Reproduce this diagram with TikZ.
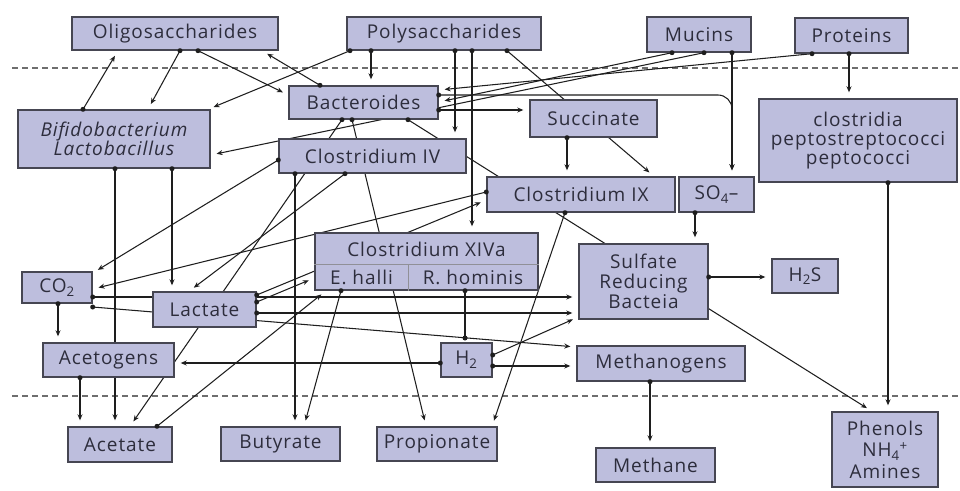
\documentclass[tikz,border=0pt]{standalone}
\usepackage{fontspec}
\setmainfont{Open Sans}[LetterSpace=5]
\usetikzlibrary{arrows.meta}
\definecolor{boxfill}{RGB}{189,190,221}
\definecolor{boxline}{RGB}{70,70,82}
\definecolor{txtc}{RGB}{45,45,60}
\definecolor{lc}{RGB}{30,30,30}
\definecolor{dashc}{RGB}{110,110,110}
\pgfdeclarelayer{background}
\pgfdeclarelayer{foreground}
\pgfsetlayers{background,main,foreground}
\newcommand\myedge[3][]{%
  \begin{pgfonlayer}{background}\draw[arr,#1] #2 -- #3;\end{pgfonlayer}%
  \begin{pgfonlayer}{foreground}\fill[lc] #2 circle (2.5pt);\end{pgfonlayer}}
\begin{document}
\begin{tikzpicture}[x=1pt, y=-1pt,
  bx/.style={draw=boxline, fill=boxfill, line width=1.4pt, inner sep=0pt, align=center, text=txtc, font=\fontsize{19}{19.5}\selectfont},
  lbl/.style={inner sep=0pt, text=txtc, font=\fontsize{19}{19.5}\selectfont},
  arr/.style={draw=lc, line width=1.05pt, -{Stealth[length=6pt,width=5pt]}, shorten >=6pt},
  pl/.style={draw=lc, line width=1.05pt},
  divl/.style={draw=boxline!60, line width=0.8pt}]
\useasboundingbox (0,0) rectangle (960,490);
\begin{pgfonlayer}{background}
\fill[white] (0,0) rectangle (960,490);
\draw[dashc, line width=1.5pt, dash pattern=on 6pt off 4pt] (12,68) -- (960,68);
\draw[dashc, line width=1.5pt, dash pattern=on 6pt off 4pt] (12,396) -- (960,396);
\end{pgfonlayer}

% boxes
\node[bx, minimum width=206pt, minimum height=33pt] (oligo) at (175,33.5) {Oligosaccharides};
\node[bx, minimum width=194pt, minimum height=33pt] (poly) at (444,33.5) {Polysaccharides};
\node[bx, minimum width=104pt, minimum height=35pt] (mucins) at (699,34.5) {Mucins};
\node[bx, minimum width=113pt, minimum height=35pt] (proteins) at (851.5,35.5) {Proteins};
\node[bx, minimum width=149pt, minimum height=33pt] (bact) at (363.5,102.5) {Bacteroides};
\node[bx, minimum width=192pt, minimum height=58pt, font=\fontsize{19}{19}\selectfont\itshape] (bifido) at (114,139) {Bifidobacterium\\Lactobacillus};
\node[bx, minimum width=187pt, minimum height=34pt] (clos4) at (372.5,156) {Clostridium IV};
\node[bx, minimum width=127pt, minimum height=37pt] (succ) at (593.5,118.5) {Succinate};
\node[bx, minimum width=198pt, minimum height=83pt, font=\fontsize{19}{19}\selectfont] (clostridia) at (858,140.5) {clostridia\\peptostreptococci\\peptococci};
\node[bx, minimum width=188pt, minimum height=35pt] (clos9) at (581,194.5) {Clostridium IX};
\node[bx, minimum width=75pt, minimum height=35pt] (so4) at (716.5,194.5) {SO\textsubscript{4}–};
\node[bx, minimum width=223pt, minimum height=57pt] (xiva) at (426.5,261.5) {};
\node[lbl] (xivat) at (426.5,249) {Clostridium XIVa};
\node[lbl] (ehalli) at (361.5,277.5) {E. halli};
\node[lbl] (rhom) at (473,277.5) {R. hominis};
\draw[divl] (xiva.west |- 0,264) -- (xiva.east |- 0,264);
\draw[divl] (xiva.south -| 408,0) -- (408,264);
\node[bx, minimum width=129pt, minimum height=75pt, font=\fontsize{19}{20}\selectfont] (srb) at (643.5,281.5) {Sulfate\\Reducing\\Bacteia};
\node[bx, minimum width=66pt, minimum height=34pt] (h2s) at (805,276) {H\textsubscript{2}S};
\node[bx, minimum width=70pt, minimum height=31pt] (co2) at (57,287.5) {CO\textsubscript{2}};
\node[bx, minimum width=103pt, minimum height=35pt] (lactate) at (204.5,309.5) {Lactate};
\node[bx, minimum width=131pt, minimum height=34pt] (acetogens) at (108.5,360) {Acetogens};
\node[bx, minimum width=51pt, minimum height=34pt] (h2) at (466.5,360) {H\textsubscript{2}};
\node[bx, minimum width=168pt, minimum height=35pt] (methanogens) at (661,363.5) {Methanogens};
\node[bx, minimum width=104pt, minimum height=35pt] (acetate) at (120,444.5) {Acetate};
\node[bx, minimum width=119pt, minimum height=34pt] (butyrate) at (280.5,444) {Butyrate};
\node[bx, minimum width=120pt, minimum height=34pt] (propionate) at (437,444) {Propionate};
\node[bx, minimum width=119pt, minimum height=34pt] (methane) at (655.5,465) {Methane};
\node[bx, minimum width=106pt, minimum height=75pt, font=\fontsize{19}{21.5}\selectfont] (phenols) at (885,449.5) {Phenols\\NH\textsubscript{4}\textsuperscript{+}\\Amines};

% connectors
\myedge{(bifido.north -| 83,0)}{(oligo.south -| 118,0)}
\myedge{(oligo.south -| 180,0)}{(bifido.north -| 148,0)}
\myedge{(oligo.south -| 198,0)}{(bact.west |- 0,95)}
\myedge{(bact.north -| 320,0)}{(oligo.south -| 262,0)}
\myedge{(poly.south -| 350,0)}{(bifido.north -| 208,0)}
\myedge{(poly.south -| 371,0)}{(bact.north -| 371,0)}
\myedge{(poly.south -| 455,0)}{(clos4.north -| 455,0)}
\myedge{(poly.south -| 472,0)}{(xiva.north -| 472,0)}
\myedge{(poly.south -| 507,0)}{(clos9.north -| 654,0)}
\myedge{(mucins.south -| 672,0)}{(bact.east |- 0,102)}
\myedge{(proteins.south -| 812,0)}{(bact.east |- 0,90)}
\myedge{(mucins.south -| 704,0)}{(bifido.east |- 0,155)}
\myedge{(mucins.south -| 732,0)}{(so4.north -| 732,0)}
\begin{pgfonlayer}{background}\draw[arr, rounded corners=14pt] (bact.east |- 0,95) -| (so4.north -| 732,0);\end{pgfonlayer}
\begin{pgfonlayer}{foreground}\fill[lc] (bact.east |- 0,95) circle (2.5pt);\end{pgfonlayer}
\myedge{(bact.east |- 0,110)}{(succ.west |- 0,110)}
\myedge{(proteins.south -| 849,0)}{(clostridia.north -| 849,0)}
\myedge{(clostridia.south -| 888,0)}{(phenols.north -| 888,0)}
\myedge{(bact.south -| 342,0)}{(acetate.north -| 130,0)}
\myedge{(bact.south -| 352,0)}{(propionate.north -| 426,0)}
\myedge{(bact.south -| 408,0)}{(phenols.north -| 872,0)}
\myedge{(clos4.west |- 0,160)}{(co2.east |- 0,273)}
\myedge{(clos9.west |- 0,192)}{(co2.east |- 0,289)}
\myedge{(clos4.south -| 295,0)}{(butyrate.north -| 295,0)}
\myedge{(clos4.south -| 345,0)}{(lactate.north -| 189,0)}
\myedge{(bifido.south -| 115,0)}{(acetate.north -| 115,0)}
\myedge{(bifido.south -| 172,0)}{(lactate.north -| 172,0)}
\myedge{(lactate.east |- 0,295)}{(clos9.west |- 0,200)}
\myedge{(lactate.east |- 0,302)}{(xiva.west |- 0,278)}
\myedge{(co2.east |- 0,297)}{(srb.west |- 0,297)}
\myedge{(lactate.east |- 0,313)}{(srb.west |- 0,313)}
\myedge{(co2.east |- 0,307)}{(methanogens.west |- 0,347)}
\coordinate (junc) at (465,338);
\begin{pgfonlayer}{background}\draw[pl] (xiva.south -| 465,0) -- (junc);\end{pgfonlayer}
\begin{pgfonlayer}{foreground}\fill[lc] (xiva.south -| 465,0) circle (2.5pt); \fill[lc] (junc) circle (2.5pt);\end{pgfonlayer}
\myedge{(h2.east |- 0,355)}{(srb.west |- 0,317)}
\myedge{(h2.east |- 0,366)}{(methanogens.west |- 0,366)}
\myedge{(h2.west |- 0,363)}{(acetogens.east |- 0,363)}
\myedge{(co2.south -| 58,0)}{(acetogens.north -| 58,0)}
\myedge{(acetogens.south -| 80,0)}{(acetate.north -| 80,0)}
\myedge{(acetate.north -| 157,0)}{(xiva.south -| 326,0)}
\myedge{(xiva.south -| 341,0)}{(butyrate.north -| 304,0)}
\myedge{(clos9.south -| 565,0)}{(propionate.north -| 492,0)}
\myedge{(methanogens.south -| 650,0)}{(methane.north -| 650,0)}
\myedge{(srb.east |- 0,277)}{(h2s.west |- 0,277)}
\myedge{(so4.south -| 695,0)}{(srb.north -| 695,0)}
\myedge{(succ.south -| 567,0)}{(clos9.north -| 567,0)}
\end{tikzpicture}
\end{document}
